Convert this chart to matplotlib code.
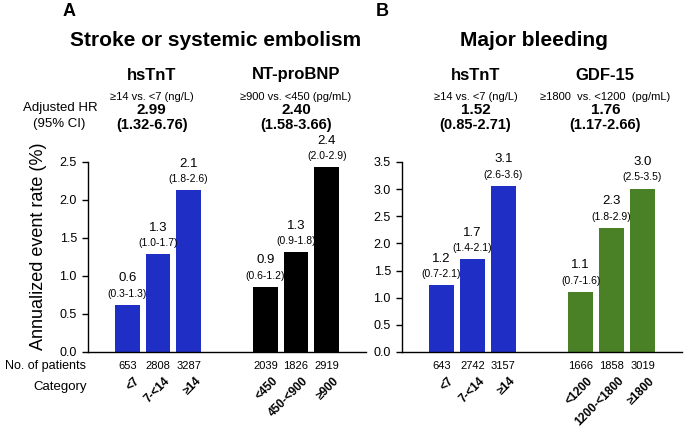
import numpy as np
import matplotlib
matplotlib.use('Agg')
import matplotlib.pyplot as plt
from matplotlib import transforms

plt.rcParams['font.family'] = ['Liberation Sans', 'DejaVu Sans']

# chart data
positions = [0, 1, 2, 4.5, 5.5, 6.5]

a_rates = [0.62, 1.29, 2.13, 0.86, 1.31, 2.43]
a_labels = ['0.6', '1.3', '2.1', '0.9', '1.3', '2.4']
a_ci = ['(0.3-1.3)', '(1.0-1.7)', '(1.8-2.6)', '(0.6-1.2)', '(0.9-1.8)', '(2.0-2.9)']
a_patients = ['653', '2808', '3287', '2039', '1826', '2919']
a_categories = ['<7', '7-<14', '≥14', '<450', '450-<900', '≥900']
a_colors = ['#1f2fc6'] * 3 + ['#000000'] * 3

b_rates = [1.23, 1.71, 3.06, 1.11, 2.29, 3.01]
b_labels = ['1.2', '1.7', '3.1', '1.1', '2.3', '3.0']
b_ci = ['(0.7-2.1)', '(1.4-2.1)', '(2.6-3.6)', '(0.7-1.6)', '(1.8-2.9)', '(2.5-3.5)']
b_patients = ['643', '2742', '3157', '1666', '1858', '3019']
b_categories = ['<7', '7-<14', '≥14', '<1200', '1200-<1800', '≥1800']
b_colors = ['#1f2fc6'] * 3 + ['#4a8126'] * 3

a_markers = ['hsTnT', 'NT-proBNP']
a_compare = ['≥14 vs. <7 (ng/L)', '≥900 vs. <450 (pg/mL)']
a_hr = ['2.99', '2.40']
a_hr_ci = ['(1.32-6.76)', '(1.58-3.66)']

b_markers = ['hsTnT', 'GDF-15']
b_compare = ['≥14 vs. <7 (ng/L)', '≥1800  vs. <1200  (pg/mL)']
b_hr = ['1.52', '1.76']
b_hr_ci = ['(0.85-2.71)', '(1.17-2.66)']

W, H = 684, 433
fig = plt.figure(figsize=(W / 100, H / 100), dpi=100)


def fy(py):
    # pixel row -> figure fraction
    return 1 - py / H


def panel(left_px, right_px, rates, labels, cis, patients, cats, colors,
          ymax, markers, compare, hr, hr_ci, header_x, title, title_x, letter, letter_x):
    ax = fig.add_axes([left_px / W, fy(352), (right_px - left_px) / W, (352 - 162) / H])
    ax.bar(positions, rates, width=0.8, color=colors)
    ax.set_xlim(-1.28, 7.78)
    ax.set_ylim(0, ymax)
    ticks = np.arange(0, ymax + 0.01, 0.5)
    ax.set_yticks(ticks)
    ax.set_yticklabels(['%.1f' % t for t in ticks])
    ax.set_xticks([])
    ax.spines['top'].set_visible(False)
    ax.spines['right'].set_visible(False)
    ax.spines['left'].set_linewidth(1.0)
    ax.spines['bottom'].set_linewidth(1.0)
    ax.tick_params(axis='y', length=4, width=1.0, labelsize=9, pad=4)

    for x, r, lab, ci in zip(positions, rates, labels, cis):
        ax.annotate(lab, (x, r), xytext=(0, 19), textcoords='offset points',
                    ha='center', va='center', fontsize=9.5)
        ax.annotate(ci, (x, r), xytext=(0, 8), textcoords='offset points',
                    ha='center', va='center', fontsize=7.5)

    tr = transforms.blended_transform_factory(ax.transData, fig.transFigure)
    for x, n, c in zip(positions, patients, cats):
        ax.text(x, fy(366), n, transform=tr, ha='center', va='center', fontsize=8)
        ax.text(x + 0.2, fy(375), c, transform=tr, ha='right', va='top',
                rotation=45, rotation_mode='anchor', fontsize=8.5, fontweight='bold')

    for hx, m, cmp_, v, vci in zip(header_x, markers, compare, hr, hr_ci):
        ax.text(hx, fy(75), m, transform=tr, ha='center', va='center',
                fontsize=12, fontweight='bold')
        ax.text(hx, fy(97), cmp_, transform=tr, ha='center', va='center', fontsize=8)
        ax.text(hx, fy(110), v, transform=tr, ha='center', va='center',
                fontsize=11, fontweight='bold')
        ax.text(hx, fy(125), vci, transform=tr, ha='center', va='center',
                fontsize=10.5, fontweight='bold')

    fig.text(title_x / W, fy(41), title, ha='center', va='center',
             fontsize=15, fontweight='bold')
    fig.text(letter_x / W, fy(12), letter, ha='center', va='center',
             fontsize=13, fontweight='bold')
    return ax


axA = panel(88, 366, a_rates, a_labels, a_ci, a_patients, a_categories, a_colors,
            2.5, a_markers, a_compare, a_hr, a_hr_ci, [0.8, 5.5],
            'Stroke or systemic embolism', 216, 'A', 69)
axB = panel(402, 682, b_rates, b_labels, b_ci, b_patients, b_categories, b_colors,
            3.5, b_markers, b_compare, b_hr, b_hr_ci, [1.1, 5.3],
            'Major bleeding', 534, 'B', 382)

axA.set_ylabel('Annualized event rate (%)', fontsize=13)
axA.yaxis.set_label_coords(-0.147, 0.555)

fig.text(60 / W, fy(108), 'Adjusted HR', ha='center', va='center', fontsize=9.5)
fig.text(59 / W, fy(124), '(95% CI)', ha='center', va='center', fontsize=9.5)
fig.text(86 / W, fy(366), 'No. of patients', ha='right', va='center', fontsize=9)
fig.text(87 / W, fy(387), 'Category', ha='right', va='center', fontsize=9.5)

fig.savefig('out.png', dpi=100)
